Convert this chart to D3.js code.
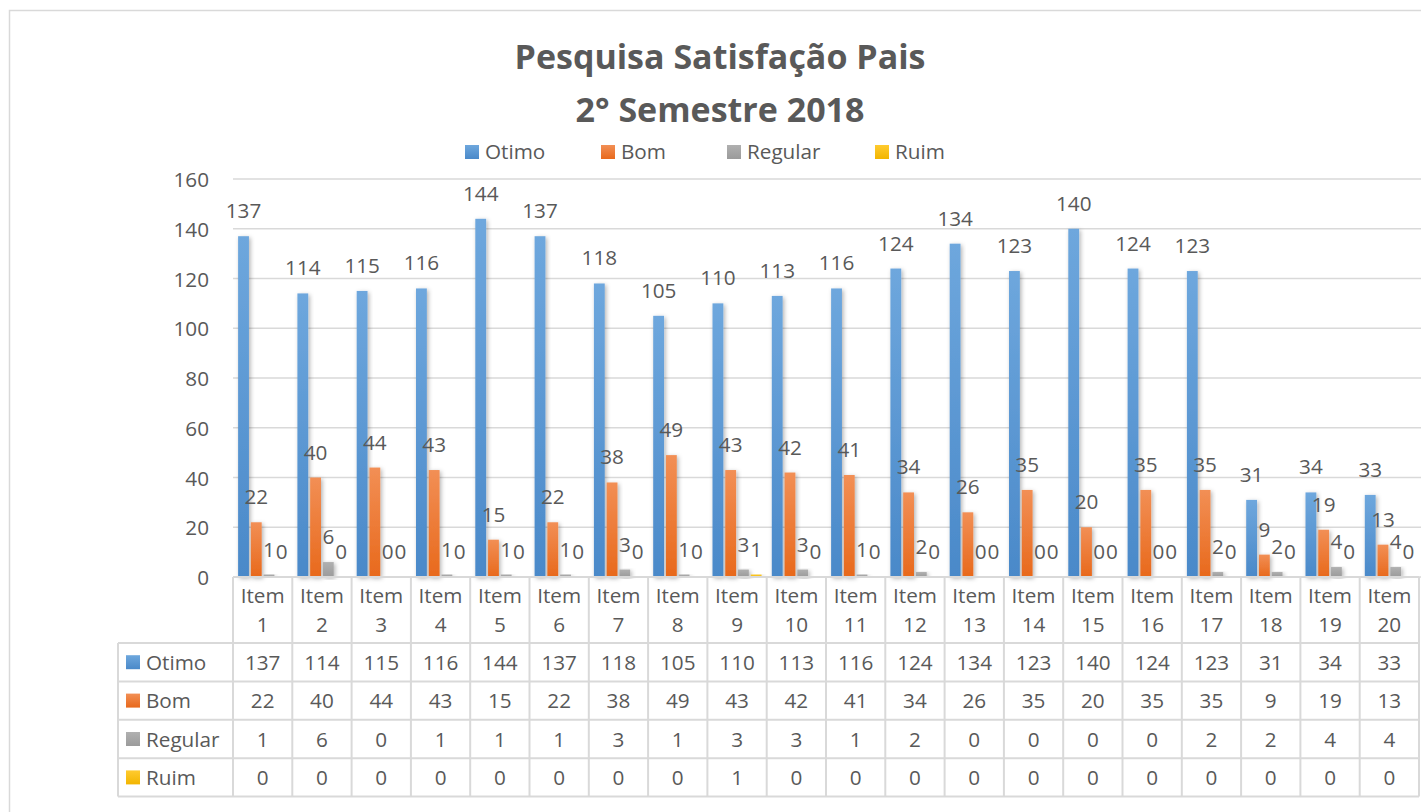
<!DOCTYPE html>
<html>
<head>
<meta charset="utf-8">
<script src="https://cdn.jsdelivr.net/npm/d3@7"></script>
<style>
  body { margin: 0; background: #fff; }
  text { font-family: "Open Sans", sans-serif; fill: #595959; }
</style>
</head>
<body>
<div id="chart"></div>
<script>
const items = d3.range(1, 21).map(i => "Item " + i);
const seriesNames = ["Otimo", "Bom", "Regular", "Ruim"];
const otimo = [137, 114, 115, 116, 144, 137, 118, 105, 110, 113, 116, 124, 134, 123, 140, 124, 123, 31, 34, 33];
const bom = [22, 40, 44, 43, 15, 22, 38, 49, 43, 42, 41, 34, 26, 35, 20, 35, 35, 9, 19, 13];
const regular = [1, 6, 0, 1, 1, 1, 3, 1, 3, 3, 1, 2, 0, 0, 0, 0, 2, 2, 4, 4];
const ruim = [0, 0, 0, 0, 0, 0, 0, 0, 1, 0, 0, 0, 0, 0, 0, 0, 0, 0, 0, 0];
const yTicks = [0, 20, 40, 60, 80, 100, 120, 140, 160];

const values = [otimo, bom, regular, ruim];
const colors = [
  { top: "#6ea7dd", bottom: "#4a89c9" },
  { top: "#f28f55", bottom: "#e8691c" },
  { top: "#b0b0b0", bottom: "#9b9b9b" },
  { top: "#ffcb2f", bottom: "#f2b500" }
];

const width = 1421, height = 812;
const plotLeft = 233, plotRight = 1419, plotTop = 179, plotBottom = 577;
const headerH = 66, rowH = 38.4, labelLeft = 118;
const fs = 20.7;

const svg = d3.select("#chart").append("svg")
  .attr("width", width).attr("height", height);

const defs = svg.append("defs");
colors.forEach((c, i) => {
  const lg = defs.append("linearGradient").attr("id", "grad" + i)
    .attr("x1", 0).attr("y1", 0).attr("x2", 0).attr("y2", 1);
  lg.append("stop").attr("offset", "0%").attr("stop-color", c.top);
  lg.append("stop").attr("offset", "100%").attr("stop-color", c.bottom);
});
defs.append("filter").attr("id", "shadow")
  .attr("x", "-50%").attr("y", "-10%").attr("width", "200%").attr("height", "130%")
  .append("feDropShadow")
  .attr("dx", 1.5).attr("dy", 1.5).attr("stdDeviation", 2)
  .attr("flood-color", "#000").attr("flood-opacity", 0.3);

// chart frame
svg.append("rect")
  .attr("x", 9.5).attr("y", 10.5)
  .attr("width", width + 20).attr("height", height + 20)
  .attr("fill", "none").attr("stroke", "#d9d9d9").attr("stroke-width", 1.5);

// title
svg.append("text").attr("x", 720).attr("y", 69)
  .attr("text-anchor", "middle").attr("font-size", 34).attr("font-weight", "bold")
  .text("Pesquisa Satisfação Pais");
svg.append("text").attr("x", 720).attr("y", 122)
  .attr("text-anchor", "middle").attr("font-size", 34).attr("font-weight", "bold")
  .text("2° Semestre 2018");

// legend
const legendX = [465, 601, 727, 875];
const legend = svg.append("g");
seriesNames.forEach((name, i) => {
  legend.append("rect").attr("x", legendX[i]).attr("y", 145)
    .attr("width", 14).attr("height", 14).attr("fill", "url(#grad" + i + ")");
  legend.append("text").attr("x", legendX[i] + 20).attr("y", 159)
    .attr("font-size", fs).text(name);
});

// scales
const x0 = d3.scaleBand().domain(items).range([plotLeft, plotRight]).padding(0);
const x1 = d3.scaleBand().domain(seriesNames).range([0, x0.bandwidth()])
  .paddingInner(0.15).paddingOuter(0.4);
const y = d3.scaleLinear().domain([0, 160]).range([plotBottom, plotTop]);

// gridlines
svg.append("g").selectAll("line").data(yTicks).join("line")
  .attr("x1", plotLeft).attr("x2", width)
  .attr("y1", d => y(d)).attr("y2", d => y(d))
  .attr("stroke", "#d9d9d9").attr("stroke-width", 1.5);

// y axis labels
svg.append("g").selectAll("text").data(yTicks).join("text")
  .attr("x", 209).attr("y", d => y(d) + 8)
  .attr("text-anchor", "end").attr("font-size", fs)
  .text(d => d);

// bars
const groups = svg.append("g").selectAll("g").data(items).join("g")
  .attr("transform", d => `translate(${x0(d)},0)`);
groups.selectAll("rect")
  .data((d, i) => seriesNames.map((s, k) => ({ s, k, v: values[k][i] })))
  .join("rect")
  .attr("x", d => x1(d.s))
  .attr("y", d => y(d.v))
  .attr("width", x1.bandwidth())
  .attr("height", d => plotBottom - y(d.v))
  .attr("fill", d => `url(#grad${d.k})`)
  .attr("filter", "url(#shadow)");

// data labels
groups.selectAll("text")
  .data((d, i) => seriesNames.map((s, k) => ({ s, k, v: values[k][i] })))
  .join("text")
  .attr("x", d => x1(d.s) + x1.bandwidth() / 2)
  .attr("y", d => y(d.v) - 18)
  .attr("text-anchor", "middle").attr("font-size", fs)
  .text(d => d.v);

// data table
const table = svg.append("g");
const lineColor = "#d9d9d9";
const tableBottom = plotBottom + headerH + rowH * 4;
// horizontal lines
table.append("line").attr("x1", plotLeft).attr("x2", plotRight)
  .attr("y1", plotBottom).attr("y2", plotBottom)
  .attr("stroke", lineColor).attr("stroke-width", 2);
d3.range(5).forEach(r => {
  const yy = plotBottom + headerH + r * rowH;
  table.append("line").attr("x1", labelLeft).attr("x2", plotRight)
    .attr("y1", yy).attr("y2", yy)
    .attr("stroke", lineColor).attr("stroke-width", 2);
});
// vertical lines
items.concat(["end"]).forEach((it, i) => {
  const xx = it === "end" ? plotRight : x0(it);
  table.append("line").attr("x1", xx).attr("x2", xx)
    .attr("y1", plotBottom).attr("y2", tableBottom)
    .attr("stroke", lineColor).attr("stroke-width", 2);
});
table.append("line").attr("x1", labelLeft).attr("x2", labelLeft)
  .attr("y1", plotBottom + headerH).attr("y2", tableBottom)
  .attr("stroke", lineColor).attr("stroke-width", 2);

// header labels
items.forEach(it => {
  const cx = x0(it) + x0.bandwidth() / 2;
  const parts = it.split(" ");
  table.append("text").attr("x", cx).attr("y", plotBottom + 26)
    .attr("text-anchor", "middle").attr("font-size", fs).text(parts[0]);
  table.append("text").attr("x", cx).attr("y", plotBottom + 55)
    .attr("text-anchor", "middle").attr("font-size", fs).text(parts[1]);
});

// rows
seriesNames.forEach((name, k) => {
  const rowTop = plotBottom + headerH + k * rowH;
  const cy = rowTop + rowH / 2;
  table.append("rect").attr("x", 126).attr("y", cy - 7)
    .attr("width", 14).attr("height", 14).attr("fill", `url(#grad${k})`);
  table.append("text").attr("x", 146).attr("y", cy + 7.5)
    .attr("font-size", fs).text(name);
  items.forEach((it, i) => {
    table.append("text").attr("x", x0(it) + x0.bandwidth() / 2).attr("y", cy + 7.5)
      .attr("text-anchor", "middle").attr("font-size", fs).text(values[k][i]);
  });
});
</script>
</body>
</html>
